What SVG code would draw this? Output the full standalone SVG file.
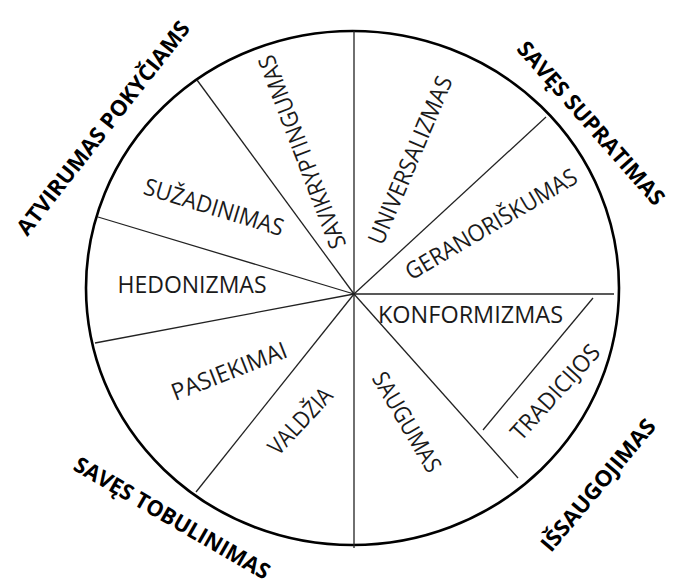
<svg xmlns="http://www.w3.org/2000/svg" width="673" height="587" viewBox="0 0 673 587">
<style>
  .lbl { font-family: "Open Sans", "Liberation Sans", sans-serif; font-size: 23.5px; fill: #1a1a1a; text-anchor: middle; }
  .grp { font-family: "Open Sans", "Liberation Sans", sans-serif; font-size: 22px; font-weight: bold; fill: #000; text-anchor: middle; }
  .div { stroke: #222; stroke-width: 1.3; fill: none; }
  .rim { stroke: #000; stroke-width: 2.6; fill: #fff; }
</style>
<rect width="673" height="587" fill="#fff"/>
<g id="circle">
  <ellipse class="rim" cx="352.5" cy="288" rx="266.5" ry="257"/>
</g>
<g id="connectors">
  <line class="div" x1="354" y1="31" x2="354" y2="548"/>
  <line class="div" x1="354" y1="294" x2="614" y2="294"/>
  <line class="div" x1="354" y1="294" x2="546" y2="117"/>
  <line class="div" x1="354" y1="294" x2="197" y2="80"/>
  <line class="div" x1="354" y1="294" x2="98" y2="217"/>
  <line class="div" x1="354" y1="294" x2="95" y2="343"/>
  <line class="div" x1="354" y1="294" x2="196" y2="492"/>
  <line class="div" x1="354" y1="294" x2="518" y2="478"/>
  <line class="div" x1="483" y1="430" x2="593" y2="298"/>
</g>
<g id="savikryptingumas"><text class="lbl" transform="translate(302,152) rotate(-111)" x="0" y="8.4" textLength="205" lengthAdjust="spacingAndGlyphs">SAVIKRYPTINGUMAS</text></g>
<g id="universalizmas"><text class="lbl" transform="translate(410,160) rotate(-67)" x="0" y="8.4" textLength="180" lengthAdjust="spacingAndGlyphs">UNIVERSALIZMAS</text></g>
<g id="geranoriskumas"><text class="lbl" transform="translate(491,224) rotate(-30.5)" x="0" y="8.4" textLength="195" lengthAdjust="spacingAndGlyphs">GERANORIŠKUMAS</text></g>
<g id="konformizmas"><text class="lbl" x="470.5" y="323" textLength="185" lengthAdjust="spacingAndGlyphs">KONFORMIZMAS</text></g>
<g id="tradicijos"><text class="lbl" transform="translate(555,392) rotate(-47.8)" x="0" y="8.4" textLength="120" lengthAdjust="spacingAndGlyphs">TRADICIJOS</text></g>
<g id="saugumas"><text class="lbl" transform="translate(407,422) rotate(59.5)" x="0" y="8.4" textLength="112" lengthAdjust="spacingAndGlyphs">SAUGUMAS</text></g>
<g id="valdzia"><text class="lbl" transform="translate(300,421) rotate(-47)" x="0" y="8.4" textLength="82" lengthAdjust="spacingAndGlyphs">VALDŽIA</text></g>
<g id="pasiekimai"><text class="lbl" transform="translate(229,371) rotate(-21.4)" x="0" y="8.4" textLength="122" lengthAdjust="spacingAndGlyphs">PASIEKIMAI</text></g>
<g id="hedonizmas"><text class="lbl" x="192" y="293" textLength="149" lengthAdjust="spacingAndGlyphs">HEDONIZMAS</text></g>
<g id="suzadinimas"><text class="lbl" transform="translate(214,207) rotate(17)" x="0" y="8.4" textLength="145" lengthAdjust="spacingAndGlyphs">SUŽADINIMAS</text></g>
<g id="atvirumas-pokyciams"><text class="grp" transform="translate(103,128) rotate(-51.8)" x="0" y="7.8" textLength="265" lengthAdjust="spacingAndGlyphs">ATVIRUMAS POKYČIAMS</text></g>
<g id="saves-supratimas"><text class="grp" transform="translate(591,123) rotate(48.6)" x="0" y="7.8" textLength="210" lengthAdjust="spacingAndGlyphs">SAVĘS SUPRATIMAS</text></g>
<g id="issaugojimas"><text class="grp" transform="translate(598,485) rotate(-50)" x="0" y="7.8" textLength="165" lengthAdjust="spacingAndGlyphs">IŠSAUGOJIMAS</text></g>
<g id="saves-tobulinimas"><text class="grp" transform="translate(172,518) rotate(30)" x="0" y="7.8" textLength="222" lengthAdjust="spacingAndGlyphs">SAVĘS TOBULINIMAS</text></g>
</svg>
